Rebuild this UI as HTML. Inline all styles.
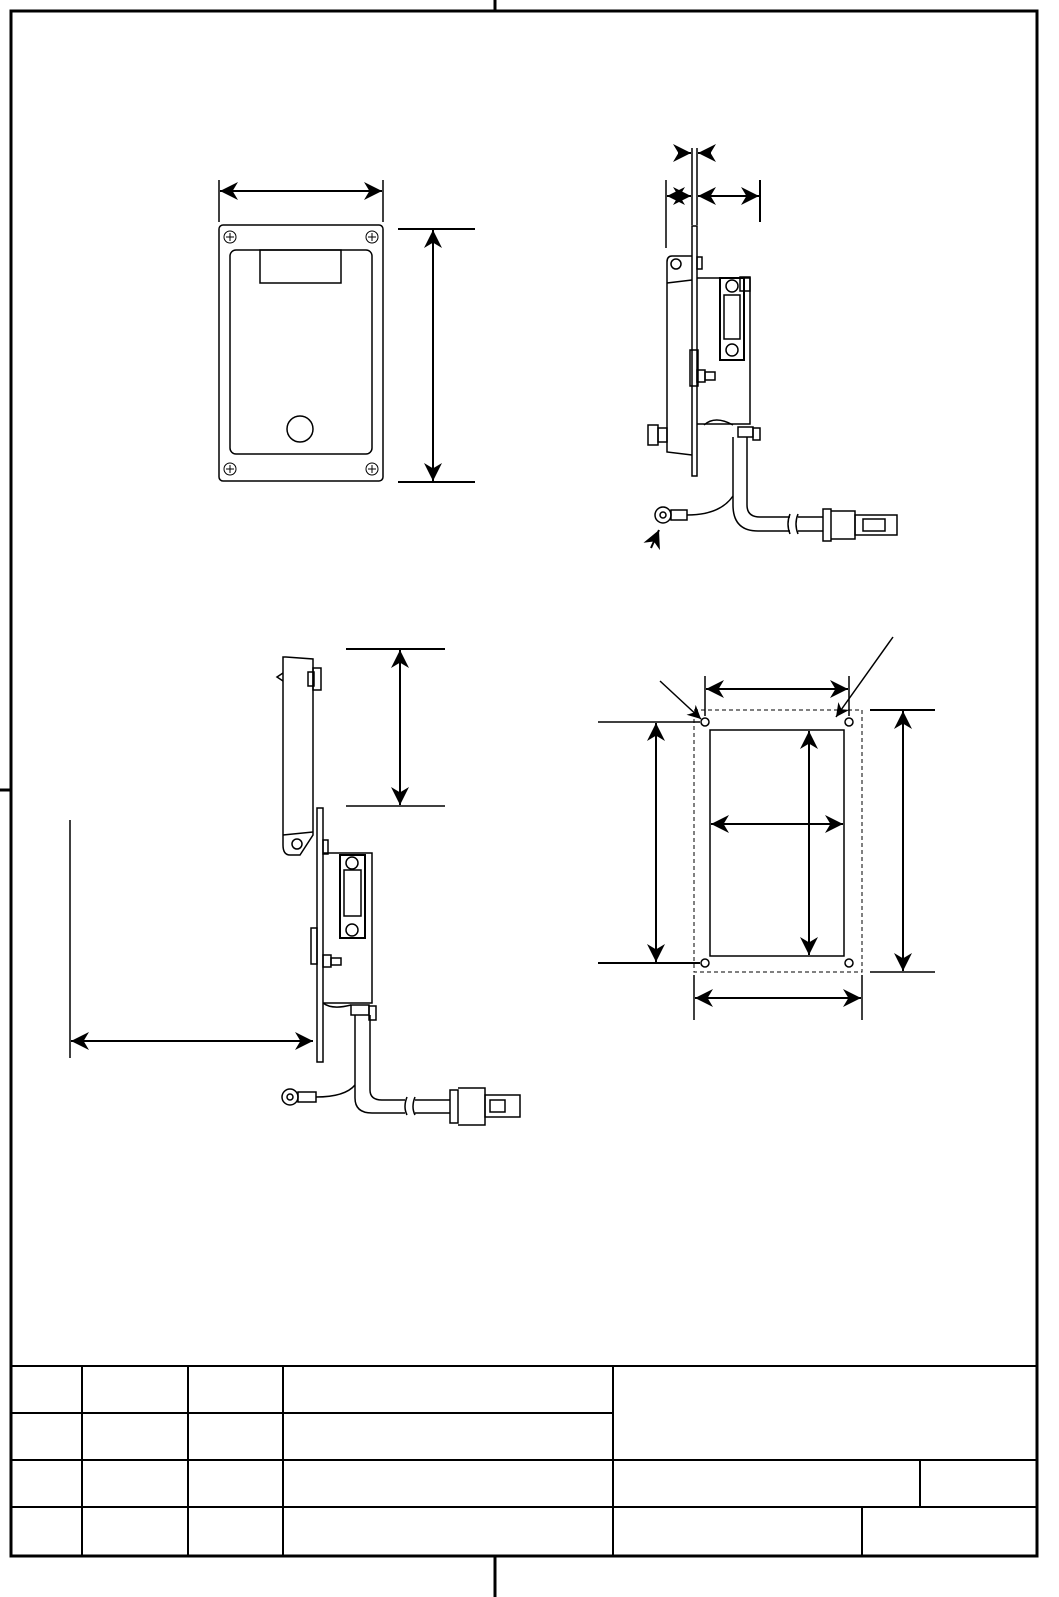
<!DOCTYPE html>
<html><head><meta charset="utf-8"><style>html,body{margin:0;padding:0;background:#fff;overflow:hidden;width:1059px;height:1597px}svg{display:block}</style></head>
<body>
<svg width="1059" height="1597" viewBox="0 0 1059 1597" xmlns="http://www.w3.org/2000/svg" fill="none" stroke="#000">
<defs>
<marker id="a" viewBox="0 0 10 10" refX="10" refY="5" markerWidth="9" markerHeight="9" orient="auto-start-reverse"><path d="M0,0 L10,5 L0,10 L3,5 z" fill="#000" stroke="none"/></marker>
</defs>
<rect x="11" y="11" width="1026" height="1545" stroke-width="3"/>
<line x1="495" y1="0" x2="495" y2="11" stroke-width="3"/>
<line x1="0" y1="790" x2="11" y2="790" stroke-width="3"/>
<line x1="495" y1="1556" x2="495" y2="1597" stroke-width="3"/>
<g stroke-width="2">
<line x1="11" y1="1366" x2="1037" y2="1366"/>
<line x1="11" y1="1413" x2="613" y2="1413"/>
<line x1="11" y1="1460" x2="1037" y2="1460"/>
<line x1="11" y1="1507" x2="1037" y2="1507"/>
<line x1="82" y1="1366" x2="82" y2="1556"/>
<line x1="188" y1="1366" x2="188" y2="1556"/>
<line x1="283" y1="1366" x2="283" y2="1556"/>
<line x1="613" y1="1366" x2="613" y2="1556"/>
<line x1="920" y1="1460" x2="920" y2="1507"/>
<line x1="862" y1="1507" x2="862" y2="1556"/>
</g>
<g stroke-width="1.5">
<rect x="219" y="225" width="164" height="256" rx="4"/>
<rect x="230" y="250" width="142" height="204" rx="6"/>
<rect x="260" y="250" width="81" height="33"/>
<circle cx="300" cy="429" r="13"/>
<g stroke-width="1"><circle cx="230" cy="237" r="6"/><circle cx="372" cy="237" r="6"/><circle cx="230" cy="469" r="6"/><circle cx="372" cy="469" r="6"/>
<path d="M226,237h8M230,233v8M368,237h8M372,233v8M226,469h8M230,465v8M368,469h8M372,465v8"/></g>
</g>
<g stroke-width="1.5">
<line x1="219" y1="180" x2="219" y2="222"/><line x1="383" y1="180" x2="383" y2="222"/>
<line x1="220" y1="191" x2="382" y2="191" stroke-width="2" marker-start="url(#a)" marker-end="url(#a)"/>
<line x1="398" y1="229" x2="475" y2="229" stroke-width="2"/><line x1="398" y1="482" x2="475" y2="482" stroke-width="2"/>
<line x1="433" y1="230" x2="433" y2="481" stroke-width="2" marker-start="url(#a)" marker-end="url(#a)"/>
</g>
<g stroke-width="1.5">
<line x1="666" y1="180" x2="666" y2="248"/>
<line x1="692" y1="148" x2="692" y2="225"/><line x1="697" y1="148" x2="697" y2="225"/>
<line x1="760" y1="180" x2="760" y2="222" stroke-width="2"/>
<line x1="667" y1="196" x2="691" y2="196" stroke-width="2" marker-start="url(#a)" marker-end="url(#a)"/>
<line x1="698" y1="196" x2="759" y2="196" stroke-width="2" marker-start="url(#a)" marker-end="url(#a)"/>
<line x1="678" y1="153" x2="691" y2="153" stroke-width="2" marker-end="url(#a)"/>
<line x1="711" y1="153" x2="698" y2="153" stroke-width="2" marker-end="url(#a)"/>
<rect x="692" y="226" width="5" height="250"/>
<path d="M692,256 L672,256 Q667,256 667,262 L667,452 L692,455"/>
<line x1="667" y1="283" x2="692" y2="280"/>
<circle cx="676" cy="264" r="5"/>
<rect x="697" y="257" width="5" height="12"/>
<rect x="690" y="350" width="8" height="36"/>
<rect x="697" y="370" width="8" height="12"/><rect x="705" y="372" width="10" height="8"/>
<rect x="648" y="425" width="10" height="20"/><rect x="658" y="428" width="9" height="14"/>
<path d="M697,278 L750,278 L750,424 L697,424"/>
<rect x="720" y="278" width="24" height="82" fill="#fff" stroke-width="2"/>
<rect x="724" y="295" width="16" height="44"/>
<circle cx="732" cy="286" r="6"/><circle cx="732" cy="350" r="6"/>
<rect x="740" y="277" width="10" height="14"/>
<rect x="738" y="427" width="15" height="10"/><rect x="753" y="428" width="7" height="12"/>
<path d="M733,437 L733,505 Q733,531 758,531 L790,531 M747,437 L747,505 Q747,517 760,517 L790,517"/>
<path d="M790,514 q-4,10 0,20 M798,514 q-4,10 0,20"/>
<path d="M798,517 L823,517 M798,531 L823,531"/>
<rect x="823" y="509" width="8" height="32"/>
<path d="M831,511 L855,511 L855,539 L831,539"/>
<rect x="855" y="515" width="42" height="20"/><rect x="863" y="519" width="22" height="12"/>
<circle cx="663" cy="515" r="8"/><circle cx="663" cy="515" r="3"/>
<rect x="671" y="510" width="16" height="10"/>
<path d="M687,515 Q720,515 733,496"/>
<path d="M704,425 Q715,415 733,425"/>
<line x1="651" y1="548" x2="659" y2="530" stroke-width="2" marker-end="url(#a)"/>
</g>
<g stroke-width="1.5">
<line x1="346" y1="649" x2="445" y2="649" stroke-width="2"/>
<line x1="346" y1="806" x2="445" y2="806"/>
<line x1="400" y1="650" x2="400" y2="805" stroke-width="2" marker-start="url(#a)" marker-end="url(#a)"/>
<line x1="70" y1="820" x2="70" y2="1058"/>
<line x1="71" y1="1041" x2="313" y2="1041" stroke-width="2" marker-start="url(#a)" marker-end="url(#a)"/>
<path d="M286,657 L313,659 L313,835 L300,855 L290,855 Q283,855 283,845 L283,657 z"/>
<line x1="283" y1="835" x2="313" y2="832"/>
<circle cx="297" cy="844" r="5"/>
<path d="M283,673 l-6,4 l6,4"/>
<rect x="313" y="668" width="8" height="22"/><rect x="308" y="672" width="6" height="14"/>
<rect x="317" y="808" width="6" height="254"/>
<rect x="323" y="840" width="5" height="14"/>
<path d="M323,853 L372,853 L372,1003 L323,1003"/>
<rect x="340" y="855" width="25" height="83" fill="#fff" stroke-width="2"/>
<rect x="344" y="870" width="17" height="46"/>
<circle cx="352" cy="863" r="6"/><circle cx="352" cy="930" r="6"/>
<rect x="311" y="928" width="6" height="36"/>
<rect x="323" y="955" width="8" height="12"/><rect x="331" y="958" width="10" height="7"/>
<rect x="351" y="1005" width="18" height="10"/><rect x="369" y="1006" width="7" height="14"/>
<path d="M355,1015 L355,1098 Q355,1113 372,1113 L405,1113 M370,1015 L370,1090 Q370,1100 382,1100 L405,1100"/>
<path d="M407,1097 q-4,10 0,18 M415,1097 q-4,10 0,18"/>
<path d="M415,1100 L450,1100 M415,1113 L450,1113"/>
<rect x="450" y="1090" width="8" height="33"/>
<path d="M458,1088 L485,1088 L485,1125 L458,1125"/>
<rect x="485" y="1095" width="35" height="22"/><rect x="490" y="1100" width="15" height="12"/>
<circle cx="290" cy="1097" r="8"/><circle cx="290" cy="1097" r="3"/>
<rect x="298" y="1092" width="18" height="10"/>
<path d="M316,1097 Q345,1097 355,1085"/>
<path d="M323,1003 Q332,1010 351,1005"/>
</g>
<g stroke-width="1.5">
<rect x="694" y="710" width="168" height="262" stroke-dasharray="4,3" stroke-width="1"/>
<rect x="710" y="730" width="134" height="226"/>
<circle cx="705" cy="722" r="4"/><circle cx="849" cy="722" r="4"/><circle cx="705" cy="963" r="4"/><circle cx="849" cy="963" r="4"/>
<line x1="705" y1="676" x2="705" y2="716"/><line x1="849" y1="676" x2="849" y2="716"/>
<line x1="706" y1="689" x2="848" y2="689" stroke-width="2" marker-start="url(#a)" marker-end="url(#a)"/>
<line x1="598" y1="722" x2="700" y2="722"/><line x1="598" y1="963" x2="700" y2="963" stroke-width="2"/>
<line x1="656" y1="723" x2="656" y2="962" stroke-width="2" marker-start="url(#a)" marker-end="url(#a)"/>
<line x1="870" y1="710" x2="935" y2="710" stroke-width="2"/><line x1="870" y1="972" x2="935" y2="972"/>
<line x1="903" y1="711" x2="903" y2="971" stroke-width="2" marker-start="url(#a)" marker-end="url(#a)"/>
<line x1="694" y1="975" x2="694" y2="1020"/><line x1="862" y1="975" x2="862" y2="1020"/>
<line x1="695" y1="998" x2="861" y2="998" stroke-width="2" marker-start="url(#a)" marker-end="url(#a)"/>
<line x1="809" y1="731" x2="809" y2="955" stroke-width="2" marker-start="url(#a)" marker-end="url(#a)"/>
<line x1="711" y1="824" x2="843" y2="824" stroke-width="2" marker-start="url(#a)" marker-end="url(#a)"/>
<line x1="660" y1="681" x2="701" y2="719" stroke-width="1.5" marker-end="url(#a)"/>
<line x1="893" y1="637" x2="836" y2="717" stroke-width="1.5" marker-end="url(#a)"/>
</g>
</svg>
</body></html>
